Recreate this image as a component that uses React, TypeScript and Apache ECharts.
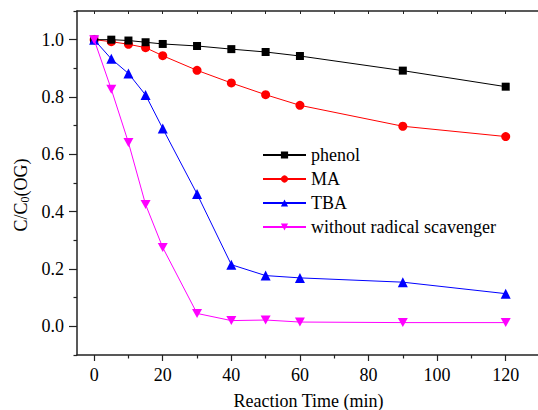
import React, { useEffect, useRef } from "react";
import * as echarts from "echarts";

const times = [0, 5, 10, 15, 20, 30, 40, 50, 60, 90, 120];
const phenol = [1.0, 1.0, 0.997, 0.991, 0.985, 0.978, 0.967, 0.957, 0.943, 0.892, 0.836];
const ma = [1.0, 0.993, 0.984, 0.972, 0.944, 0.893, 0.849, 0.808, 0.771, 0.698, 0.662];
const tba = [1.0, 0.933, 0.882, 0.807, 0.69, 0.462, 0.215, 0.177, 0.169, 0.154, 0.114];
const noScavenger = [1.0, 0.827, 0.641, 0.425, 0.275, 0.045, 0.02, 0.022, 0.015, 0.013, 0.013];

const xMajorTicks = [0, 20, 40, 60, 80, 100, 120];
const xMinorTicks = [10, 30, 50, 70, 90, 110];
const xTopTicks = [0, 10, 20, 30, 40, 50, 60, 70, 80, 90, 100, 110, 120];
const yMajorTicks = [0, 0.2, 0.4, 0.6, 0.8, 1.0];
const yMinorTicks = [-0.1, 0.1, 0.3, 0.5, 0.7, 0.9, 1.1];
const xTickLabels = ["0", "20", "40", "60", "80", "100", "120"];
const yTickLabels = ["0.0", "0.2", "0.4", "0.6", "0.8", "1.0"];

const X_MIN = -5;
const X_MAX = 130;
const Y_MIN = -0.1;
const Y_MAX = 1.1;

const FONT = "Liberation Serif";
const AX = "#222";
const lab = { fontFamily: FONT, fontSize: 18, color: "#000" };

export default function App() {
  const ref = useRef<HTMLDivElement>(null);
  useEffect(() => {
    document.body.style.margin = "0";
    const chart = echarts.init(ref.current!, null, { renderer: "svg" });
    const mk = (arr: number[]) => times.map((t, i) => [t, arr[i]]);
    const base = {
      type: "line",
      lineStyle: { width: 1 },
      xAxisIndex: 0,
      yAxisIndex: 0,
    };
    const yName = {
      type: "text",
      x: 21,
      y: 195,
      rotation: Math.PI / 2,
      style: {
        text: "{a|C/C}{s|0}{a|(OG)}",
        align: "center",
        verticalAlign: "middle",
        fontFamily: FONT,
        fontSize: 18,
        fill: "#000",
        rich: {
          a: { fontFamily: FONT, fontSize: 18, fill: "#000", color: "#000" },
          s: { fontFamily: FONT, fontSize: 12, fill: "#000", color: "#000", verticalAlign: "bottom", padding: [8, 0, 0, 0] },
        },
      },
    };
    chart.setOption({
      animation: false,
      grid: { left: 77, right: -2, top: 11, bottom: 55, containLabel: false, outerBoundsMode: "none" },
      legend: {
        orient: "vertical",
        left: 257,
        top: 140,
        itemWidth: 43,
        itemHeight: 9,
        itemGap: 4,
        textStyle: { fontFamily: FONT, fontSize: 18, color: "#000", lineHeight: 20 },
        data: ["phenol", "MA", "TBA", "without radical scavenger"],
      },
      graphic: { elements: [yName] },
      xAxis: [
        {
          type: "value",
          min: X_MIN,
          max: X_MAX,
          position: "bottom",
          name: "Reaction Time (min)",
          nameLocation: "middle",
          nameGap: 37,
          nameTextStyle: { fontFamily: FONT, fontSize: 18, color: "#000" },
          axisLine: { show: true, onZero: false, lineStyle: { color: AX, width: 1.5 } },
          axisTick: { show: true, inside: false, length: 6, customValues: xMajorTicks, lineStyle: { color: AX, width: 1.2 } },
          axisLabel: { show: true, margin: 11, ...lab, customValues: xMajorTicks },
          splitLine: { show: false },
        },
        {
          type: "value",
          min: X_MIN,
          max: X_MAX,
          position: "bottom",
          axisLine: { show: false, onZero: false },
          axisTick: { show: true, inside: false, length: 3.5, customValues: xMinorTicks, lineStyle: { color: AX, width: 1.2 } },
          axisLabel: { show: false },
          splitLine: { show: false },
        },
        {
          type: "value",
          min: X_MIN,
          max: X_MAX,
          position: "top",
          axisLine: { show: true, onZero: false, lineStyle: { color: AX, width: 1.5 } },
          axisTick: { show: true, inside: true, length: 3, customValues: xTopTicks, lineStyle: { color: AX, width: 1 } },
          axisLabel: { show: false },
          splitLine: { show: false },
        },
      ],
      yAxis: [
        {
          type: "value",
          min: Y_MIN,
          max: Y_MAX,
          position: "left",
          axisLine: { show: true, onZero: false, lineStyle: { color: AX, width: 1.5 } },
          axisTick: { show: true, inside: false, length: 8, customValues: yMajorTicks, lineStyle: { color: AX, width: 1.2 } },
          axisLabel: {
            show: true,
            margin: 12,
            ...lab,
            customValues: yMajorTicks,
            formatter: (v: number) => v.toFixed(1),
          },
          splitLine: { show: false },
        },
        {
          type: "value",
          min: Y_MIN,
          max: Y_MAX,
          position: "left",
          axisLine: { show: false, onZero: false },
          axisTick: { show: true, inside: false, length: 3.5, customValues: yMinorTicks, lineStyle: { color: AX, width: 1.2 } },
          axisLabel: { show: false },
          splitLine: { show: false },
        },
      ],
      series: [
        {
          ...base,
          name: "phenol",
          data: mk(phenol),
          symbol: "rect",
          symbolSize: 8,
          color: "#000000",
          itemStyle: { color: "#000000" },
          lineStyle: { width: 1, color: "#000000" },
          z: 4,
        },
        {
          ...base,
          name: "MA",
          data: mk(ma),
          symbol: "circle",
          symbolSize: 9,
          color: "#ff0000",
          itemStyle: { color: "#ff0000" },
          lineStyle: { width: 1, color: "#ff0000" },
          z: 3,
        },
        {
          ...base,
          name: "TBA",
          data: mk(tba),
          symbol: "triangle",
          symbolSize: 10,
          color: "#0000ff",
          itemStyle: { color: "#0000ff" },
          lineStyle: { width: 1, color: "#0000ff" },
          z: 5,
        },
        {
          ...base,
          name: "without radical scavenger",
          data: mk(noScavenger),
          symbol: "path://M0,0 L10,0 L5,8.66 Z",
          symbolSize: [10, 9],
          color: "#ff00ff",
          itemStyle: { color: "#ff00ff" },
          lineStyle: { width: 1, color: "#ff00ff" },
          z: 6,
        },
      ],
    });

    // Serif tick labels, placed through the axes' own scales.
    try {
      const axisY = chart.convertToPixel({ yAxisIndex: 0 }, Y_MIN) as number;
      const axisX = chart.convertToPixel({ xAxisIndex: 0 }, X_MIN) as number;
      const xs = xMajorTicks.map((v) => chart.convertToPixel({ xAxisIndex: 0 }, v) as number);
      const ys = yMajorTicks.map((v) => chart.convertToPixel({ yAxisIndex: 0 }, v) as number);
      const ok = [axisY, axisX, ...xs, ...ys].every((n) => typeof n === "number" && isFinite(n));
      if (ok) {
        const textStyle = (text: string, align: string) => ({
          text: `{a|${text}}`,
          align,
          verticalAlign: "middle",
          fontFamily: FONT,
          fontSize: 18,
          fill: "#000",
          rich: { a: { fontFamily: FONT, fontSize: 18, fill: "#000", color: "#000" } },
        });
        const xLabels = xs.map((px, i) => ({
          type: "text",
          x: px,
          y: axisY + 20,
          silent: true,
          style: textStyle(xTickLabels[i], "center"),
        }));
        const yLabels = ys.map((py, i) => ({
          type: "text",
          x: axisX - 13,
          y: py,
          silent: true,
          style: textStyle(yTickLabels[i], "right"),
        }));
        chart.setOption({
          xAxis: [{ axisLabel: { show: false } }],
          yAxis: [{ axisLabel: { show: false } }],
          graphic: { elements: [yName, ...xLabels, ...yLabels] },
        });
      }
    } catch (e) {
      // keep the axes' own labels
    }
    return () => chart.dispose();
  }, []);
  return <div ref={ref} style={{ width: 538, height: 410 }} />;
}
